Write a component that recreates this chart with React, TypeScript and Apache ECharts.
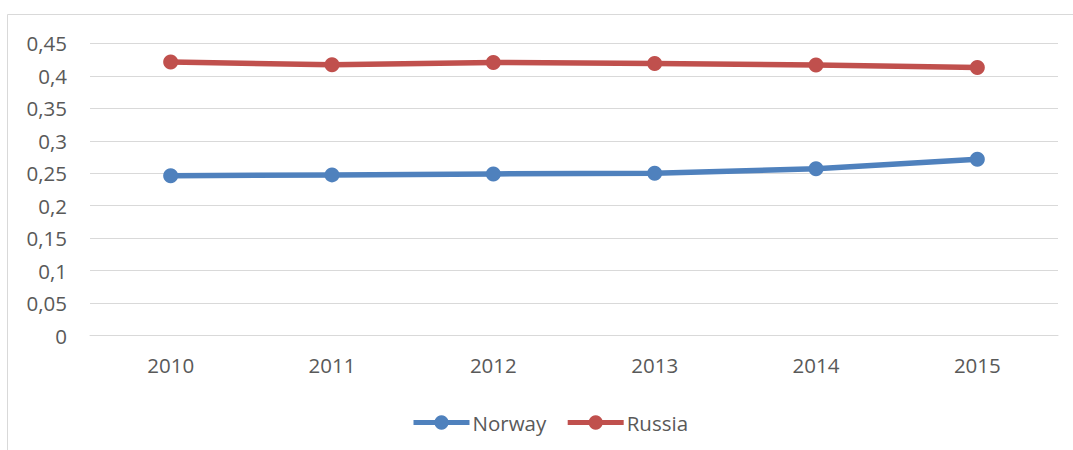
import React, { useEffect, useRef } from "react";
import * as echarts from "echarts";

const years = ["2010", "2011", "2012", "2013", "2014", "2015"];
const norway = [0.246, 0.2475, 0.249, 0.25, 0.2568, 0.2717];
const russia = [0.4211, 0.417, 0.4205, 0.419, 0.4165, 0.4128];
const yTicks = { min: 0, max: 0.45, interval: 0.05 };

const FONT = "'Open Sans', 'Noto Sans', sans-serif";

export default function App() {
  const ref = useRef<HTMLDivElement>(null);
  useEffect(() => {
    if (!ref.current) return;
    const chart = echarts.init(ref.current, undefined, { renderer: "svg" });
    chart.setOption({
      animation: false,
      backgroundColor: "#ffffff",
      textStyle: { fontFamily: FONT },
      graphic: [
        {
          type: "rect",
          shape: { x: 7.5, y: 14.5, width: 1100, height: 500 },
          style: { fill: "none", stroke: "#D9D9D9", lineWidth: 1 },
          silent: true,
        },
      ],
      grid: { left: 90, right: 15, top: 43.3, bottom: 114.3, containLabel: false },
      legend: {
        left: 406,
        top: 407,
        itemWidth: 56,
        itemHeight: 18,
        itemGap: 19,
        lineStyle: { width: 5 },
        textStyle: { color: "#595959", fontSize: 20.5, fontFamily: FONT, padding: [0, 0, 0, -2] },
        data: ["Norway", "Russia"],
      },
      xAxis: {
        type: "category",
        data: years,
        boundaryGap: true,
        axisLine: { lineStyle: { color: "#D9D9D9", width: 1 } },
        axisTick: { show: false },
        axisLabel: { color: "#595959", fontSize: 20.5, margin: 19, fontFamily: FONT },
      },
      yAxis: {
        type: "value",
        min: yTicks.min,
        max: yTicks.max,
        interval: yTicks.interval,
        axisLine: { show: false },
        axisTick: { show: false },
        splitLine: { lineStyle: { color: "#D9D9D9", width: 1 } },
        axisLabel: {
          color: "#595959",
          fontSize: 20.5,
          margin: 23,
          fontFamily: FONT,
          formatter: (v: number) => String(Math.round(v * 100) / 100).replace(".", ","),
        },
      },
      series: [
        {
          name: "Norway",
          type: "line",
          data: norway,
          symbol: "circle",
          symbolSize: 15,
          lineStyle: { color: "#4F81BD", width: 5.5 },
          itemStyle: { color: "#4F81BD" },
        },
        {
          name: "Russia",
          type: "line",
          data: russia,
          symbol: "circle",
          symbolSize: 15,
          lineStyle: { color: "#C0504D", width: 5.5 },
          itemStyle: { color: "#C0504D" },
        },
      ],
    });
    return () => chart.dispose();
  }, []);
  return (
    <div
      ref={ref}
      style={{ position: "fixed", left: 0, top: 0, width: 1073, height: 450 }}
    />
  );
}
